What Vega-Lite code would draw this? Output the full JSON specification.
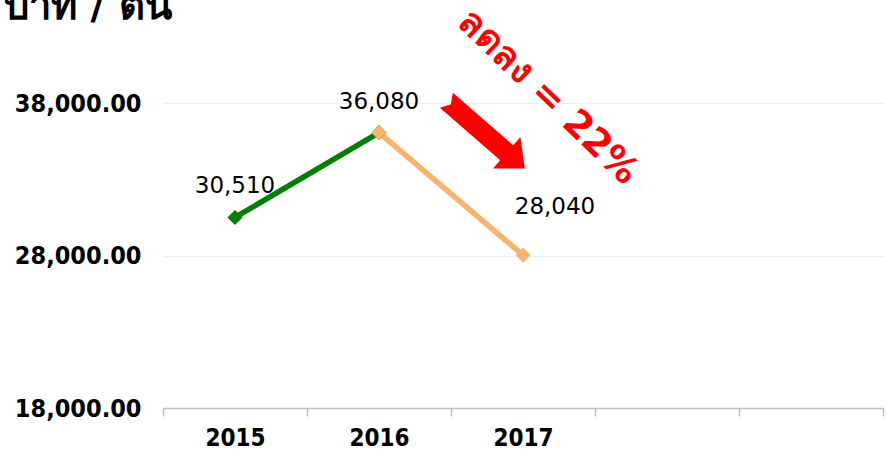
{
  "$schema": "https://vega.github.io/schema/vega-lite/v6.json",
  "width": 720,
  "height": 396,
  "autosize": "none",
  "padding": {"left": 163, "top": 12, "right": 3, "bottom": 42},
  "background": "white",
  "config": {"view": {"stroke": null}, "font": "DejaVu Sans Condensed"},
  "datasets": {
    "series": [
      {"year": "2015", "price": 30510, "seg": "2015-2016"},
      {"year": "2016", "price": 36080, "seg": "2015-2016"},
      {"year": "2016", "price": 36080, "seg": "2016-2017"},
      {"year": "2017", "price": 28040, "seg": "2016-2017"}
    ],
    "labels": [
      {"year": "2015", "price": 30510, "label": "30,510"},
      {"year": "2016", "price": 36080, "label": "36,080"},
      {"year": "2017", "price": 28040, "label": "28,040"}
    ],
    "notes": [
      {"kind": "arrow", "pos": 2.24, "price": 35970, "label": ""},
      {"kind": "text", "pos": 2.674, "price": 38400, "label": "ลดลง   = 22%"}
    ]
  },
  "layer": [
    {
      "encoding": {
        "x": {
          "field": "year", "type": "ordinal",
          "scale": {"type": "band", "domain": ["2015", "2016", "2017", "2018", "2019"], "paddingInner": 0, "paddingOuter": 0},
          "axis": {
            "title": null, "labelAngle": 0, "tickBand": "extent", "tickSize": 8,
            "tickColor": "#BFBFBF", "domainColor": "#BFBFBF", "domainWidth": 1.5, "tickWidth": 1.5,
            "labelFontSize": 24, "labelFontWeight": "bold", "labelColor": "#000000", "labelPadding": 10,
            "labelExpr": "datum.value >= '2018' ? '' : datum.label"
          }
        },
        "y": {
          "field": "price", "type": "quantitative",
          "scale": {"domain": [18000, 44000], "nice": false, "zero": false},
          "axis": {
            "values": [18000, 28000, 38000], "format": ",.2f",
            "labelFontSize": 25, "labelFontWeight": "bold", "labelColor": "#000000",
            "ticks": false, "domain": false, "labelPadding": 22, "gridColor": "#EEEEEE",
            "title": "บาท / ตัน", "titleAngle": 0, "titleX": -160, "titleY": 6,
            "titleAlign": "left", "titleBaseline": "alphabetic", "titleFontSize": 40,
            "titleFontWeight": "bold", "titleColor": "#000000", "titleFont": "DejaVu Sans"
          }
        }
      },
      "layer": [
        {
          "data": {"name": "series"},
          "mark": {"type": "line", "strokeWidth": 5.5},
          "encoding": {
            "color": {"field": "seg", "type": "nominal", "scale": {"domain": ["2015-2016", "2016-2017"], "range": ["#008000", "#F9B46B"]}, "legend": null},
            "detail": {"field": "seg"}
          }
        },
        {
          "data": {"name": "series"},
          "mark": {"type": "point", "shape": "diamond", "filled": true, "size": 230, "opacity": 1},
          "encoding": {
            "color": {"field": "seg", "type": "nominal", "legend": null}
          }
        },
        {
          "data": {"name": "labels"},
          "transform": [{"filter": "datum.year != '2017'"}],
          "mark": {"type": "text", "fontSize": 23, "font": "DejaVu Sans", "color": "#000000", "dy": -24, "baseline": "alphabetic", "align": "center"},
          "encoding": {"text": {"field": "label"}}
        },
        {
          "data": {"name": "labels"},
          "transform": [{"filter": "datum.year == '2017'"}],
          "mark": {"type": "text", "fontSize": 23, "font": "DejaVu Sans", "color": "#000000", "dx": 32, "dy": -41, "baseline": "alphabetic", "align": "center"},
          "encoding": {"text": {"field": "label"}}
        }
      ]
    },
    {
      "data": {"name": "notes"},
      "encoding": {
        "x": {"field": "pos", "type": "quantitative", "scale": {"domain": [0, 5], "nice": false, "zero": false}, "axis": null},
        "y": {"field": "price", "type": "quantitative"}
      },
      "layer": [
        {
          "transform": [{"filter": "datum.kind == 'arrow'"}],
          "mark": {
            "type": "point", "filled": true, "opacity": 1, "color": "#FF0000", "size": 12100, "angle": 41,
            "shape": "M -0.945 -0.18 L 0.51 -0.18 L 0.51 -0.38 L 0.945 0 L 0.51 0.38 L 0.51 0.18 L -0.945 0.18 L -0.835 0 Z"
          }
        },
        {
          "transform": [{"filter": "datum.kind == 'text'"}],
          "mark": {"type": "text", "fontSize": 37, "fontWeight": "bold", "color": "#FF0000", "angle": 44, "align": "center", "baseline": "middle", "font": "DejaVu Sans"},
          "encoding": {"text": {"field": "label"}}
        }
      ]
    }
  ],
  "resolve": {"scale": {"x": "independent"}}
}
